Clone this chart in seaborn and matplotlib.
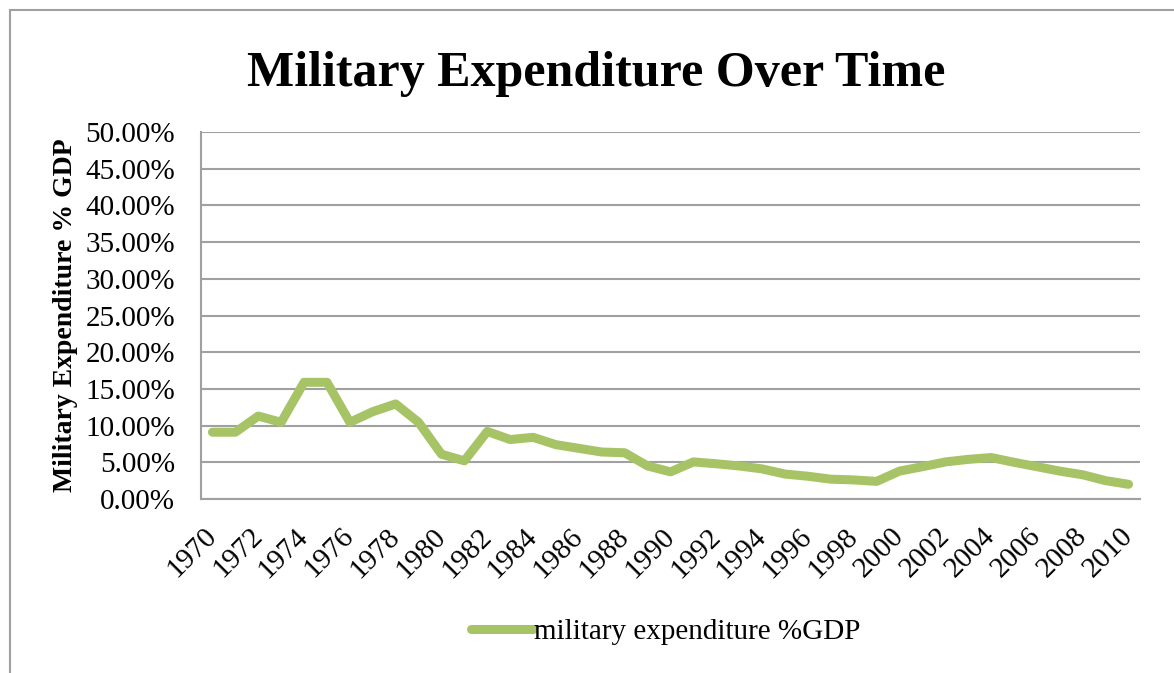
import seaborn as sns
import matplotlib.pyplot as plt
import matplotlib.ticker as mticker
from matplotlib.patches import Rectangle
import pandas as pd

# Годы и расходы (% ВВП)
years = list(range(1970, 2011))
spending = [9.1, 9.1, 11.3, 10.45, 15.9, 15.9, 10.45, 11.9, 12.95, 10.45,
            6.1, 5.2, 9.2, 8.1, 8.4, 7.4, 6.9, 6.4, 6.3, 4.5,
            3.7, 5.05, 4.8, 4.5, 4.1, 3.4, 3.1, 2.7, 2.6, 2.4,
            3.8, 4.4, 5.05, 5.4, 5.65, 5.0, 4.4, 3.8, 3.3, 2.5, 2.0]
y_ticks = [0, 5, 10, 15, 20, 25, 30, 35, 40, 45, 50]
x_ticks = list(range(1970, 2011, 2))

df = pd.DataFrame({'year': years, 'value': spending})

sns.set_style('white')
plt.rcParams['font.family'] = ['Liberation Serif', 'DejaVu Serif']
plt.rcParams['text.color'] = 'black'
plt.rcParams['xtick.color'] = 'black'
plt.rcParams['ytick.color'] = 'black'
plt.rcParams['axes.labelcolor'] = 'black'

fig = plt.figure(figsize=(11.74, 6.73), dpi=100)
ax = fig.add_axes([201 / 1174, 1 - 499 / 673, 939 / 1174, 367 / 673])

sns.lineplot(data=df, x='year', y='value', ax=ax, color='#A6C465', linewidth=6.5,
             solid_capstyle='round', solid_joinstyle='round',
             label='military expenditure %GDP')

ax.set_xlim(1969.5, 2010.5)
ax.set_ylim(0, 50)
ax.set_yticks(y_ticks)
ax.yaxis.set_major_formatter(mticker.FuncFormatter(lambda v, p: f'{v:.2f}%'))
ax.set_xticks(x_ticks)
ax.set_xticklabels([str(x) for x in x_ticks], rotation=45, ha='right',
                   rotation_mode='anchor', va='center')
ax.tick_params(axis='both', length=0, labelsize=21)
ax.tick_params(axis='y', pad=18.5)
ax.tick_params(axis='x', pad=24)
ax.grid(axis='y', color='#A0A0A0', linewidth=1.5)
ax.set_axisbelow(True)
for s in ['top', 'right']:
    ax.spines[s].set_visible(False)
for s in ['left', 'bottom']:
    ax.spines[s].set_color('#A0A0A0')
    ax.spines[s].set_linewidth(1.5)

ax.set_xlabel('')
ax.set_ylabel('Military Expenditure % GDP', fontsize=20, fontweight='bold')
ax.yaxis.set_label_coords(-0.131, 0.5)
fig.suptitle('Military Expenditure Over Time', fontsize=36, fontweight='bold',
             x=596 / 1174, y=1 - 74 / 673, va='center')

leg = ax.legend(loc='center', bbox_to_anchor=(666 / 1174, 1 - 632 / 673),
                bbox_transform=fig.transFigure, frameon=False, fontsize=21,
                handlelength=2.1, handletextpad=0.05)

# рамка области диаграммы
fig.patches.append(Rectangle((10 / 1174, -0.1), 1.2, 1 - 10 / 673 + 0.1,
                             transform=fig.transFigure, fill=False,
                             edgecolor='#A0A0A0', linewidth=1.5))

plt.savefig('out.png', dpi=100)
